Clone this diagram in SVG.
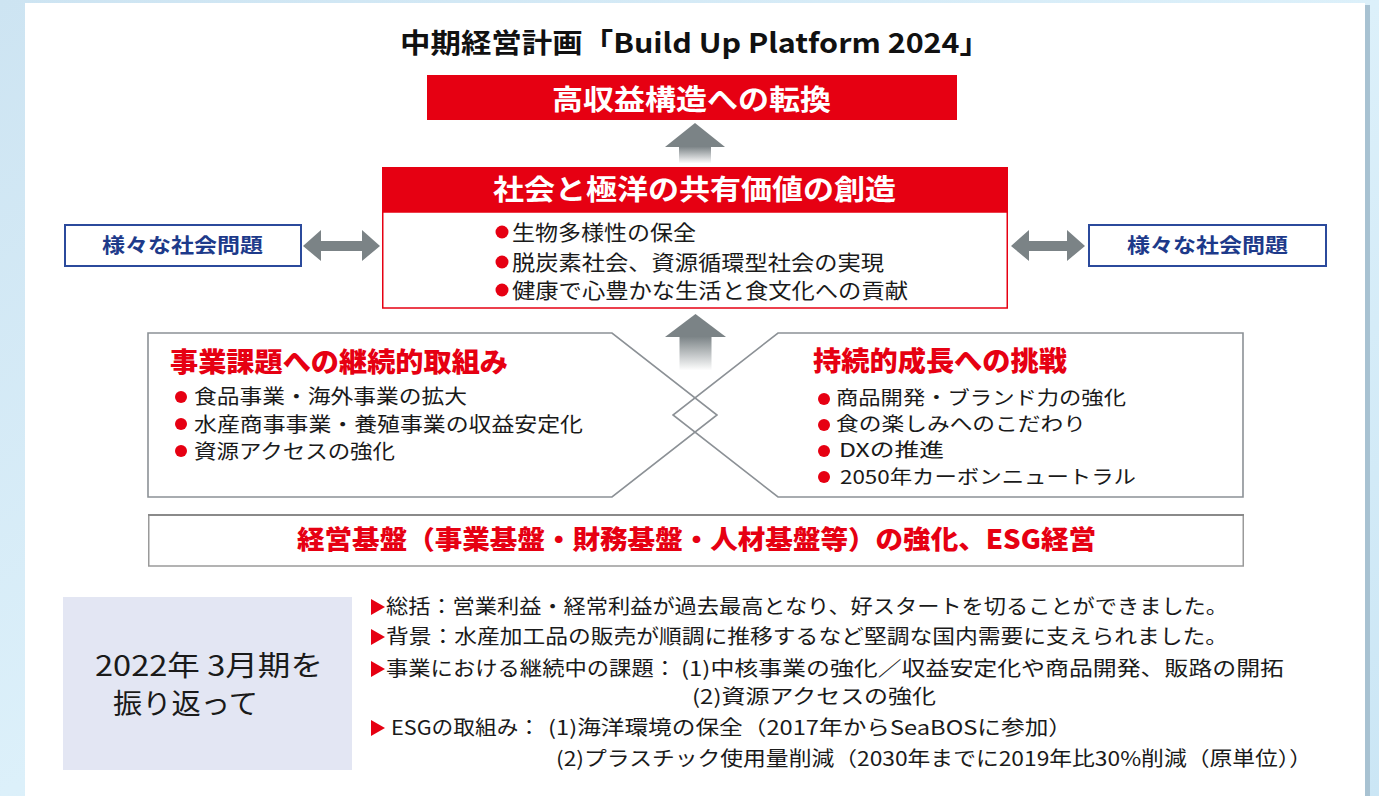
<svg xmlns="http://www.w3.org/2000/svg" width="1379" height="796" viewBox="0 0 1379 796">
<defs>
<linearGradient id="bg" x1="0" y1="0" x2="1" y2="1">
<stop offset="0" stop-color="#cde4f2"/>
<stop offset="0.5" stop-color="#dcf0fa"/>
<stop offset="1" stop-color="#cbe6f5"/>
</linearGradient>
<linearGradient id="shaft" x1="0" y1="0" x2="0" y2="1">
<stop offset="0" stop-color="#7b8386"/>
<stop offset="1" stop-color="#ffffff"/>
</linearGradient>
<style>
.jp{font-family:"Noto Sans CJK JP","Noto Sans",sans-serif;}
.ttl{font-size:27px;font-weight:700;fill:#111;}
.wh{font-size:28px;font-weight:700;fill:#fff;}
.li{font-size:20px;fill:#1a1a1a;}
.rh{font-size:27px;font-weight:900;fill:#e60012;}
.nv{font-size:20px;font-weight:700;fill:#1d3a8a;}
.sm{font-size:20px;fill:#1a1a1a;}
.big{font-size:28px;fill:#1a1a1a;}
.dot{fill:#e60012;}
.pent{fill:none;stroke:#8c9196;stroke-width:1.6;}
.garr{fill:#7b8386;}
.side{fill:#fff;stroke:#2b4a9c;stroke-width:2;}
</style>
</defs>
<rect x="0" y="0" width="1379" height="796" fill="url(#bg)"/>
<rect x="1365" y="5" width="5" height="791" fill="#a8c2d2"/>
<rect x="25" y="3" width="1340" height="793" fill="#ffffff"/>

<g id="title"><text class="jp ttl" x="400" y="53" textLength="590" lengthAdjust="spacingAndGlyphs">中期経営計画「Build Up Platform 2024」</text></g>

<g id="connectors">
<polygon class="garr" points="665,147 695,123 725,147"/>
<rect x="679" y="146.5" width="32" height="17" fill="url(#shaft)"/>
<polygon class="garr" points="665,337 695.5,314 726,337"/>
<rect x="679.5" y="336.5" width="32" height="34" fill="url(#shaft)"/>
<path class="garr" d="M303,246 L321,230 L321,241 L362,241 L362,230 L380,246 L362,261 L362,251 L321,251 L321,261 Z"/>
<path class="garr" d="M1011,246 L1029,230 L1029,241 L1067,241 L1067,230 L1085,246 L1067,261 L1067,251 L1029,251 L1029,261 Z"/>
</g>

<g id="node-highprofit">
<rect x="427" y="75" width="530" height="45" fill="#e60012"/>
<text class="jp wh" x="552" y="110" textLength="279" lengthAdjust="spacingAndGlyphs">高収益構造への転換</text>
</g>

<g id="node-csv">
<rect x="382" y="167" width="626" height="46" fill="#e60012"/>
<rect x="382.75" y="212" width="624.5" height="96" fill="#fff" stroke="#e60012" stroke-width="1.5"/>
<text class="jp wh" x="493" y="199.5" textLength="403" lengthAdjust="spacingAndGlyphs">社会と極洋の共有価値の創造</text>
<circle class="dot" cx="502" cy="232" r="6.5"/>
<circle class="dot" cx="502" cy="262" r="6.5"/>
<circle class="dot" cx="502" cy="290" r="6.5"/>
<text class="jp li" style="font-size:21px" x="512" y="239.5" textLength="184" lengthAdjust="spacingAndGlyphs">生物多様性の保全</text>
<text class="jp li" style="font-size:21px" x="512" y="270" textLength="372" lengthAdjust="spacingAndGlyphs">脱炭素社会、資源循環型社会の実現</text>
<text class="jp li" style="font-size:21px" x="512" y="297.5" textLength="396" lengthAdjust="spacingAndGlyphs">健康で心豊かな生活と食文化への貢献</text>
</g>

<g id="node-social-left">
<rect class="side" x="65" y="225" width="236" height="41"/>
<text class="jp nv" x="102" y="253" textLength="161" lengthAdjust="spacingAndGlyphs">様々な社会問題</text>
</g>
<g id="node-social-right">
<rect class="side" x="1089" y="225" width="237" height="41"/>
<text class="jp nv" x="1127" y="253" textLength="161" lengthAdjust="spacingAndGlyphs">様々な社会問題</text>
</g>

<g id="node-continuous">
<polygon class="pent" points="148,333 612,333 717,415 612,497 148,497"/>
<text class="jp rh" x="170" y="372" textLength="338" lengthAdjust="spacingAndGlyphs">事業課題への継続的取組み</text>
<circle class="dot" cx="181" cy="397" r="6"/>
<circle class="dot" cx="181" cy="424" r="6"/>
<circle class="dot" cx="181" cy="451" r="6"/>
<text class="jp li" x="194" y="404" textLength="273" lengthAdjust="spacingAndGlyphs">食品事業・海外事業の拡大</text>
<text class="jp li" x="194" y="431.5" textLength="389" lengthAdjust="spacingAndGlyphs">水産商事事業・養殖事業の収益安定化</text>
<text class="jp li" x="194" y="459" textLength="201" lengthAdjust="spacingAndGlyphs">資源アクセスの強化</text>
</g>

<g id="node-growth">
<polygon class="pent" points="1243,333 778,333 673,415 778,497 1243,497"/>
<text class="jp rh" x="813" y="371" textLength="254" lengthAdjust="spacingAndGlyphs">持続的成長への挑戦</text>
<circle class="dot" cx="824" cy="399" r="6"/>
<circle class="dot" cx="824" cy="425" r="6"/>
<circle class="dot" cx="824" cy="451" r="6"/>
<circle class="dot" cx="824" cy="477" r="6"/>
<text class="jp li" style="font-size:19px" x="836" y="405" textLength="290" lengthAdjust="spacingAndGlyphs">商品開発・ブランド力の強化</text>
<text class="jp li" style="font-size:19px" x="836" y="431" textLength="250" lengthAdjust="spacingAndGlyphs">食の楽しみへのこだわり</text>
<text class="jp li" style="font-size:19px" x="839" y="457" textLength="105" lengthAdjust="spacingAndGlyphs">DXの推進</text>
<text class="jp li" style="font-size:19px" x="840" y="483.5" textLength="296" lengthAdjust="spacingAndGlyphs">2050年カーボンニュートラル</text>
</g>

<g id="node-foundation">
<rect x="148.75" y="515" width="1094.5" height="51" fill="#fff" stroke="#9a9a9a" stroke-width="1.5"/>
<line x1="148" y1="515" x2="1244" y2="515" stroke="#8a8a8a" stroke-width="2"/>
<text class="jp rh" style="font-size:26px" x="297" y="549" textLength="799" lengthAdjust="spacingAndGlyphs">経営基盤（事業基盤・財務基盤・人材基盤等）の強化、ESG経営</text>
</g>

<g id="node-review">
<rect x="63" y="597" width="289" height="173" fill="#e3e6f3"/>
<text class="jp big" x="95" y="676" textLength="228" lengthAdjust="spacingAndGlyphs">2022年 3月期を</text>
<text class="jp big" x="113" y="714" textLength="145" lengthAdjust="spacingAndGlyphs">振り返って</text>
</g>

<g id="node-review-notes">
<polygon class="dot" points="371,599 385,607 371,615"/>
<polygon class="dot" points="371,629 385,637 371,645"/>
<polygon class="dot" points="371,661 385,669 371,677"/>
<polygon class="dot" points="371,720 385,728 371,736"/>
<text class="jp sm" x="386" y="614" textLength="842" lengthAdjust="spacingAndGlyphs">総括：営業利益・経常利益が過去最高となり、好スタートを切ることができました。</text>
<text class="jp sm" x="386" y="644" textLength="842" lengthAdjust="spacingAndGlyphs">背景：水産加工品の販売が順調に推移するなど堅調な国内需要に支えられました。</text>
<text class="jp sm" x="386" y="676" textLength="290" lengthAdjust="spacingAndGlyphs">事業における継続中の課題：</text>
<text class="jp sm" x="681" y="676" textLength="603" lengthAdjust="spacingAndGlyphs">(1)中核事業の強化／収益安定化や商品開発、販路の開拓</text>
<text class="jp sm" x="692" y="704" textLength="244" lengthAdjust="spacingAndGlyphs">(2)資源アクセスの強化</text>
<text class="jp sm" x="391" y="735" textLength="149" lengthAdjust="spacingAndGlyphs">ESGの取組み：</text>
<text class="jp sm" x="548" y="735" textLength="524" lengthAdjust="spacingAndGlyphs">(1)海洋環境の保全（2017年からSeaBOSに参加）</text>
<text class="jp sm" x="556" y="766" textLength="756" lengthAdjust="spacingAndGlyphs">(2)プラスチック使用量削減（2030年までに2019年比30%削減（原単位））</text>
</g>
</svg>
